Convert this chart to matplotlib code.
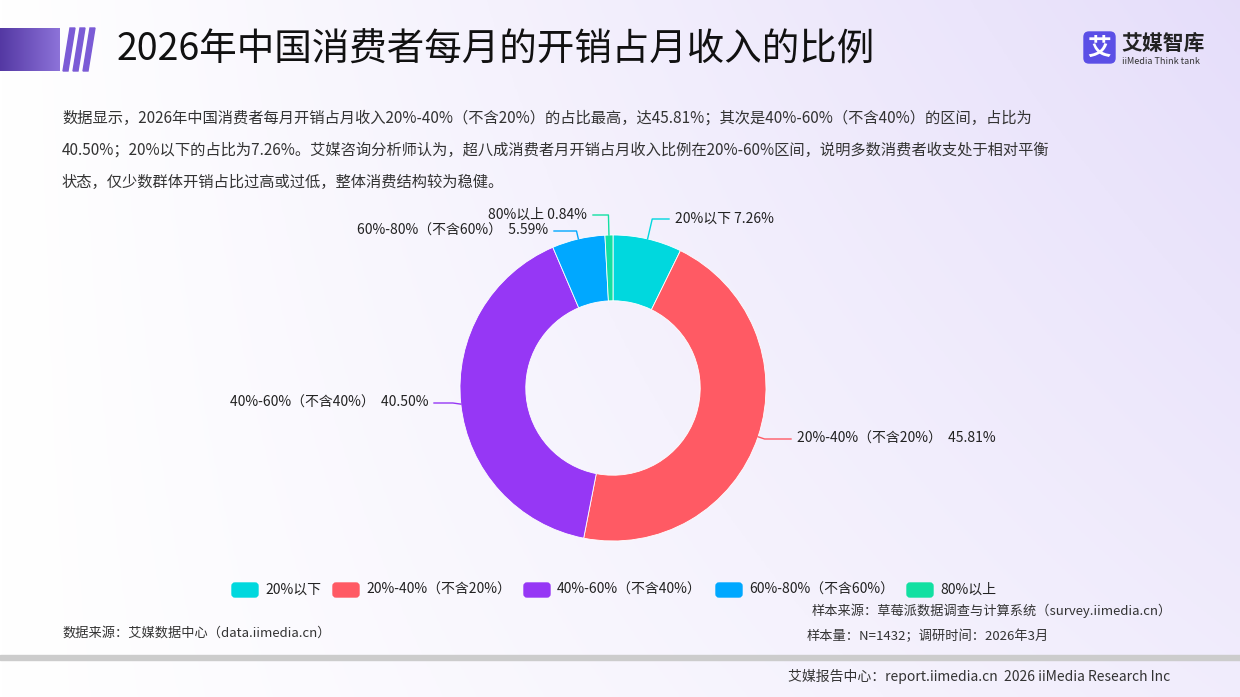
import numpy as np
import matplotlib.pyplot as plt
from matplotlib.patches import Rectangle, Polygon, FancyBboxPatch

plt.rcParams['font.family'] = ['Noto Sans CJK SC', 'DejaVu Sans']

categories = ['20%以下', '20%-40%（不含20%）', '40%-60%（不含40%）', '60%-80%（不含60%）', '80%以上']
values = [7.26, 45.81, 40.50, 5.59, 0.84]
colors = ['#00D8DE', '#FF5A64', '#9637F5', '#00A8FF', '#12E0A2']

W, H = 1240, 697
fig = plt.figure(figsize=(W / 100, H / 100), dpi=100)

# background in pixel coordinates
bg = fig.add_axes([0, 0, 1, 1])
bg.set_xlim(0, W)
bg.set_ylim(H, 0)
bg.axis('off')
grad = np.linspace(0, 1, 256)[None, :] * np.linspace(1, 0.55, 256)[:, None]
c0 = np.array([1, 1, 1]); c1 = np.array([0.90, 0.87, 0.98])
img = c0 + (c1 - c0) * grad[..., None]
bg.imshow(img, extent=[0, W, H, 0], aspect='auto', zorder=0)

# header bar
bar = np.linspace(0, 1, 64)[None, :]
bar_img = np.array([0.33, 0.22, 0.64]) + (np.array([0.55, 0.45, 0.85]) - np.array([0.33, 0.22, 0.64])) * bar[..., None]
bg.imshow(bar_img, extent=[0, 60, 71, 28], aspect='auto', zorder=1)
for x0 in [63, 73, 83]:
    bg.add_patch(Polygon([[x0, 71], [x0 + 5, 71], [x0 + 12, 28], [x0 + 7, 28]], color='#7B5BD6', zorder=1))
bg.text(117, 50, '2026年中国消费者每月的开销占月收入的比例', fontsize=27, va='center', ha='left', color='#111111')

# logo
bg.add_patch(FancyBboxPatch((1084, 32), 31, 31, boxstyle='round,pad=0,rounding_size=5', color='#5B4FE6', zorder=2))
bg.text(1099.5, 48, '艾', color='white', fontsize=17, ha='center', va='center', fontweight='bold', zorder=3)
bg.text(1121, 43, '艾媒智库', fontsize=15, fontweight='bold', color='#222222', va='center')
bg.text(1122, 61, 'iiMedia Think tank', fontsize=6.5, color='#333333', va='center')

desc = ['数据显示，2026年中国消费者每月开销占月收入20%-40%（不含20%）的占比最高，达45.81%；其次是40%-60%（不含40%）的区间，占比为',
        '40.50%；20%以下的占比为7.26%。艾媒咨询分析师认为，超八成消费者月开销占月收入比例在20%-60%区间，说明多数消费者收支处于相对平衡',
        '状态，仅少数群体开销占比过高或过低，整体消费结构较为稳健。']
for i, line in enumerate(desc):
    bg.text(62, 118 + i * 32, line, fontsize=11, color='#333333', va='center')

# donut
cx, cy, R = 613, 388, 153
pie_ax = fig.add_axes([(cx - R) / W, 1 - (cy + R) / H, 2 * R / W, 2 * R / H])
pie_ax.pie(values, colors=colors, startangle=90, counterclock=False, radius=1,
           wedgeprops=dict(width=0.43, edgecolor='white', linewidth=0.6))
pie_ax.set_xlim(-1, 1); pie_ax.set_ylim(-1, 1)
pie_ax.axis('off')

# labels with leader lines
ov = fig.add_axes([0, 0, 1, 1])
ov.set_xlim(0, W); ov.set_ylim(H, 0); ov.axis('off')
label_y = [219, 439, 403, 231, 215]
label_x = [675, 797, 428, 548, 587]
cum = np.cumsum([0] + values)
for i, (cat, v) in enumerate(zip(categories, values)):
    mid = 90 - (cum[i] + v / 2) / 100 * 360
    a = np.deg2rad(mid)
    px, py = cx + R * np.cos(a), cy - R * np.sin(a)
    right = np.cos(a) >= 0
    ly = label_y[i]
    ex = px + (ly - py) / -np.tan(a) if abs(np.tan(a)) > 0.3 and abs(ly - py) < 60 else px + (8 if right else -8)
    hx = label_x[i] - 6 if right else label_x[i] + 6
    ov.plot([px, ex, hx], [py, ly, ly], color=colors[i], lw=1)
    ov.text(label_x[i], ly, f'{cat} {v:.2f}%' if i in (0, 4) else f'{cat}  {v:.2f}%', fontsize=10,
            ha='left' if right else 'right', va='center', color='#222222')

# legend
lx = [232, 333, 524, 716, 907]
for x, cat, c in zip(lx, categories, colors):
    ov.add_patch(FancyBboxPatch((x, 583), 26, 14, boxstyle='round,pad=0,rounding_size=3', color=c))
    ov.text(x + 33, 590, cat, fontsize=10, va='center', color='#222222')

ov.text(62, 633, '数据来源：艾媒数据中心（data.iimedia.cn）', fontsize=9.5, va='center', color='#333333')
ov.text(1172, 611, '样本来源：草莓派数据调查与计算系统（survey.iimedia.cn）', fontsize=9.5, va='center', ha='right', color='#333333')
ov.text(807, 636, '样本量：N=1432；调研时间：2026年3月', fontsize=9.5, va='center', color='#333333')
ov.add_patch(Rectangle((0, 655), W, 5, color='#CCCCCC'))
ov.text(1170, 676, '艾媒报告中心：report.iimedia.cn  2026 iiMedia Research Inc', fontsize=10, va='center', ha='right', color='#333333')

fig.savefig('out.png', dpi=100)
